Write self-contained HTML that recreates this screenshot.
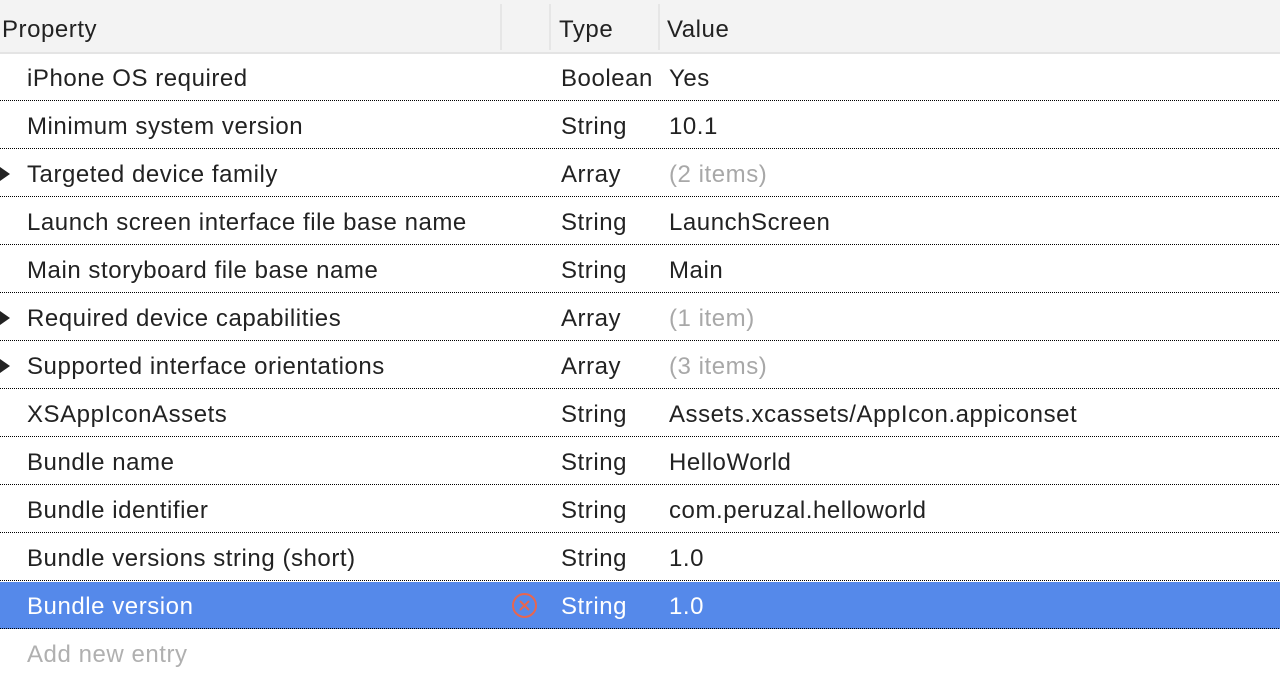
<!DOCTYPE html>
<html><head><style>
body{margin:0;width:1280px;height:698px;background:#fff;font-family:"Liberation Sans",sans-serif;font-size:24px;letter-spacing:0.55px;color:#222;position:relative;overflow:hidden}
.hdr{position:absolute;left:0;top:0;width:1280px;height:52px;background:#f3f3f3;border-bottom:2px solid #e4e4e4}
.hdr span{position:absolute;top:16px}
.vd{position:absolute;top:4px;width:2px;height:46px;background:#e6e6e6}
.row{position:absolute;left:0;width:1280px;height:47px;background-image:linear-gradient(90deg,#000 50%,transparent 50%);background-size:2px 1px;background-repeat:repeat-x;background-position:0 100%}
.row span{position:absolute;top:11px}
.p{left:27px}.t{left:561px}.v{left:669px}
.g{color:#a8a8a8}
.tri{position:absolute;left:0;top:17px;width:0;height:0;border-top:7px solid transparent;border-bottom:7px solid transparent;border-left:10px solid #222}
.sel{background-color:#5589ea;color:#fff}
</style></head><body>
<div class="hdr">
<span style="left:2px">Property</span><span style="left:559px">Type</span><span style="left:667px">Value</span>
<div class="vd" style="left:500px"></div><div class="vd" style="left:549px"></div><div class="vd" style="left:658px"></div>
</div>
<div class="row" style="top:54px"><span class="p">iPhone OS required</span><span class="t">Boolean</span><span class="v">Yes</span></div>
<div class="row" style="top:102px"><span class="p">Minimum system version</span><span class="t">String</span><span class="v">10.1</span></div>
<div class="row" style="top:150px"><div class="tri"></div><span class="p">Targeted device family</span><span class="t">Array</span><span class="v g">(2 items)</span></div>
<div class="row" style="top:198px"><span class="p">Launch screen interface file base name</span><span class="t">String</span><span class="v">LaunchScreen</span></div>
<div class="row" style="top:246px"><span class="p">Main storyboard file base name</span><span class="t">String</span><span class="v">Main</span></div>
<div class="row" style="top:294px"><div class="tri"></div><span class="p">Required device capabilities</span><span class="t">Array</span><span class="v g">(1 item)</span></div>
<div class="row" style="top:342px"><div class="tri"></div><span class="p">Supported interface orientations</span><span class="t">Array</span><span class="v g">(3 items)</span></div>
<div class="row" style="top:390px"><span class="p">XSAppIconAssets</span><span class="t">String</span><span class="v">Assets.xcassets/AppIcon.appiconset</span></div>
<div class="row" style="top:438px"><span class="p">Bundle name</span><span class="t">String</span><span class="v">HelloWorld</span></div>
<div class="row" style="top:486px"><span class="p">Bundle identifier</span><span class="t">String</span><span class="v">com.peruzal.helloworld</span></div>
<div class="row" style="top:534px"><span class="p">Bundle versions string (short)</span><span class="t">String</span><span class="v">1.0</span></div>
<div class="row sel" style="top:582px;height:47px"><span class="p">Bundle version</span>
<svg style="position:absolute;left:511px;top:10px" width="27" height="27" viewBox="0 0 27 27"><circle cx="13.5" cy="13.5" r="11.5" fill="none" stroke="#e8664f" stroke-width="2"/><path d="M9 9L18 18M18 9L9 18" stroke="#e8664f" stroke-width="2"/></svg>
<span class="t">String</span><span class="v">1.0</span></div>
<div style="position:absolute;top:641px;left:27px;color:#b0b0b0">Add new entry</div>
</body></html>
